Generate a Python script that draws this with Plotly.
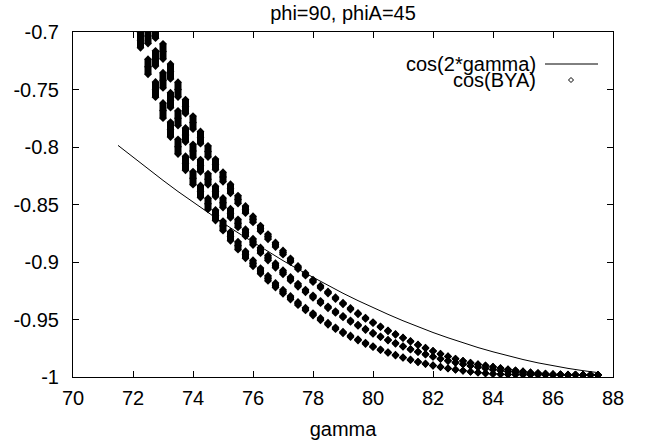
import plotly.graph_objects as go

# ---------------- data ----------------
gamma = [72.25, 72.5, 72.75, 73.0, 73.25, 73.5, 73.75, 74.0, 74.25, 74.5,
         74.75, 75.0, 75.25, 75.5, 75.75, 76.0, 76.25, 76.5, 76.75, 77.0,
         77.25, 77.5, 77.75, 78.0, 78.25, 78.5, 78.75, 79.0, 79.25, 79.5,
         79.75, 80.0, 80.25, 80.5, 80.75, 81.0, 81.25, 81.5, 81.75, 82.0,
         82.25, 82.5, 82.75, 83.0, 83.25, 83.5, 83.75, 84.0, 84.25, 84.5,
         84.75, 85.0, 85.25, 85.5, 85.75, 86.0, 86.25, 86.5, 86.75, 87.0,
         87.25, 87.5]

# cos(BYA): three bands of points (centre of each clump)
bya_low = [-0.7071, -0.7302, -0.7501, -0.7683, -0.7848, -0.7997, -0.8141, -0.8271, -0.8387, -0.8494,
           -0.8594, -0.8686, -0.8776, -0.8858, -0.8937, -0.9011, -0.9078, -0.9142, -0.9202, -0.9259,
           -0.9311, -0.9361, -0.9409, -0.9455, -0.9497, -0.9537, -0.9576, -0.9613, -0.9646, -0.9677,
           -0.9707, -0.9736, -0.9763, -0.9787, -0.9810, -0.9831, -0.9851, -0.9869, -0.9885, -0.9900,
           -0.9913, -0.9925, -0.9936, -0.9945, -0.9954, -0.9961, -0.9968, -0.9973, -0.9976, -0.9978,
           -0.9979, -0.9980, -0.9981, -0.9981, -0.9982, -0.9982, -0.9982, -0.9983, -0.9983, -0.9983,
           -0.9983, -0.9983]
bya_mid = [None, -0.7034, -0.7230, -0.7420, -0.7593, -0.7749, -0.7896, -0.8034, -0.8162, -0.8280,
           -0.8387, -0.8485, -0.8576, -0.8664, -0.8746, -0.8825, -0.8898, -0.8965, -0.9030, -0.9089,
           -0.9146, -0.9202, -0.9252, -0.9301, -0.9348, -0.9394, -0.9435, -0.9475, -0.9514, -0.9550,
           -0.9586, -0.9620, -0.9650, -0.9679, -0.9707, -0.9734, -0.9759, -0.9781, -0.9803, -0.9823,
           -0.9842, -0.9859, -0.9874, -0.9889, -0.9903, -0.9914, -0.9925, -0.9936, -0.9944, -0.9952,
           -0.9959, -0.9965, -0.9970, -0.9974, -0.9978, -0.9980, -0.9980, -0.9981, -0.9981, -0.9982,
           -0.9982, -0.9982]
bya_high = [None, None, -0.6988, -0.7169, -0.7343, -0.7501, -0.7649, -0.7788, -0.7918, -0.8039,
            -0.8151, -0.8261, -0.8363, -0.8457, -0.8544, -0.8629, -0.8708, -0.8780, -0.8850, -0.8918,
            -0.8984, -0.9048, -0.9107, -0.9164, -0.9215, -0.9265, -0.9314, -0.9361, -0.9406, -0.9449,
            -0.9489, -0.9527, -0.9563, -0.9598, -0.9629, -0.9659, -0.9690, -0.9720, -0.9748, -0.9774,
            -0.9799, -0.9821, -0.9842, -0.9860, -0.9877, -0.9890, -0.9901, -0.9912, -0.9923, -0.9934,
            -0.9943, -0.9952, -0.9960, -0.9966, -0.9971, -0.9975, -0.9978, -0.9980, -0.9980, -0.9981,
            -0.9981, -0.9981]
# vertical half-extent of each clump of points
bya_spread = [0.0066, 0.0066, 0.0066, 0.0066, 0.0065, 0.0064, 0.0061, 0.0057, 0.0053, 0.0049,
              0.0046, 0.0042, 0.0039, 0.0035, 0.0031, 0.0027, 0.0025, 0.0023, 0.0020, 0.0018,
              0.0016, 0.0014, 0.0012, 0.0011, 0.0010, 0.0009, 0.0008, 0.0007, 0.0007, 0.0006,
              0.0006, 0.0005, 0.0004, 0.0004, 0.0004, 0.0003, 0.0003, 0.0003, 0.0003, 0.0002,
              0.0002, 0.0002, 0.0002, 0.0001, 0.0001, 0.0001, 0.0001, 0.0001, 0.0001, 0.0001,
              0.0001, 0.0, 0.0, 0.0, 0.0, 0.0, 0.0, 0.0, 0.0, 0.0,
              0.0, 0.0]

# cos(2*gamma) curve
line_gamma = [71.5, 72.0, 72.5, 73.0, 73.5, 74.0, 74.5, 75.0, 75.5, 76.0, 76.5,
              77.0, 77.5, 78.0, 78.5, 79.0, 79.5, 80.0, 80.5, 81.0, 81.5, 82.0,
              82.5, 83.0, 83.5, 84.0, 84.5, 85.0, 85.5, 86.0, 86.5, 87.0, 87.5]
line_cos2g = [-0.7986, -0.8090, -0.8192, -0.8290, -0.8387, -0.8480, -0.8572, -0.8660, -0.8746, -0.8829, -0.8910,
              -0.8988, -0.9063, -0.9135, -0.9205, -0.9272, -0.9336, -0.9397, -0.9455, -0.9511, -0.9563, -0.9613,
              -0.9659, -0.9703, -0.9744, -0.9781, -0.9816, -0.9848, -0.9877, -0.9903, -0.9925, -0.9945, -0.9962]

x_tick_vals = [70, 72, 74, 76, 78, 80, 82, 84, 86, 88]
x_tick_text = ["70", "72", "74", "76", "78", "80", "82", "84", "86", "88"]
y_tick_vals = [-1.0, -0.95, -0.9, -0.85, -0.8, -0.75, -0.7]
y_tick_text = ["-1", "-0.95", "-0.9", "-0.85", "-0.8", "-0.75", "-0.7"]

title_text = "phi=90, phiA=45"
x_title = "gamma"
legend_names = ["cos(2*gamma)", "cos(BYA)"]

# ---------------- figure ----------------
FONT = "Liberation Sans, Arial, Helvetica, sans-serif"
FS = 20
fig = go.Figure()

fig.add_trace(go.Scatter(x=line_gamma, y=line_cos2g, mode="lines",
                         line=dict(color="black", width=1), showlegend=False,
                         name=legend_names[0]))

px, py, ps = [], [], []
for band in (bya_low, bya_mid, bya_high):
    for g, v, s in zip(gamma, band, bya_spread):
        if v is None:
            continue
        px.append(g)
        py.append(v)
        ps.append(s)

# clumps: a thick vertical bar spanning the clump, with diamonds at centre and ends
fig.add_trace(go.Scatter(x=px, y=py, mode="markers", showlegend=False, name=legend_names[1],
                         marker=dict(symbol="diamond", size=6, color="black", line=dict(width=0)),
                         error_y=dict(type="data", array=ps, visible=True, thickness=7,
                                      width=0, color="black")))
fig.add_trace(go.Scatter(x=px + px, y=[v + s for v, s in zip(py, ps)] + [v - s for v, s in zip(py, ps)],
                         mode="markers", showlegend=False, hoverinfo="skip",
                         marker=dict(symbol="diamond", size=6, color="black", line=dict(width=0))))

W, H = 645, 447
L, R, T, B = 73, 32, 32, 70
pw, ph = W - L - R, H - T - B


def pxx(x):
    return (x - L) / pw


def pxy(y):
    return (H - B - y) / ph


axis_common = dict(showline=True, linecolor="black", linewidth=1, mirror="ticks",
                   ticks="inside", ticklen=6, tickwidth=1, tickcolor="black",
                   showgrid=False, zeroline=False,
                   tickfont=dict(family=FONT, size=FS, color="black"))

fig.update_layout(
    width=W, height=H,
    margin=dict(l=L, r=R, t=T, b=B, autoexpand=False),
    paper_bgcolor="white", plot_bgcolor="white",
    font=dict(family=FONT, size=FS, color="black"),
    showlegend=False,
    title=dict(text=title_text, x=pxx(343), xref="paper", xanchor="center",
               y=1 - 13 / H, yref="container", yanchor="middle",
               font=dict(family=FONT, size=FS, color="black")),
    xaxis=dict(range=[70, 88], tickmode="array", tickvals=x_tick_vals, ticktext=x_tick_text,
               ticklabelstandoff=3,
               title=dict(text=x_title, standoff=13, font=dict(family=FONT, size=FS, color="black")),
               **axis_common),
    yaxis=dict(range=[-1, -0.7], tickmode="array", tickvals=y_tick_vals, ticktext=y_tick_text,
               ticklabelstandoff=9, **axis_common),
)

# key (gnuplot style: right-justified text followed by the sample)
key_rows_y = [64, 80]
key_text_right = 538
for name, ry in zip(legend_names, key_rows_y):
    fig.add_annotation(text=name, xref="paper", yref="paper", x=pxx(key_text_right), y=pxy(ry),
                       xanchor="right", yanchor="middle", showarrow=False,
                       font=dict(family=FONT, size=FS, color="black"))
fig.add_shape(type="line", xref="paper", yref="paper", x0=pxx(545), x1=pxx(598),
              y0=pxy(key_rows_y[0]), y1=pxy(key_rows_y[0]), line=dict(color="black", width=1))
cx, cy, d = 571, key_rows_y[1], 2.5
fig.add_shape(type="path", xref="paper", yref="paper",
              path=f"M {pxx(cx - d)},{pxy(cy)} L {pxx(cx)},{pxy(cy - d)} L {pxx(cx + d)},{pxy(cy)} L {pxx(cx)},{pxy(cy + d)} Z",
              line=dict(color="black", width=1), fillcolor="white")

fig.write_html("out.html", config={"displayModeBar": False},
               post_script="document.body.style.margin='0';")
